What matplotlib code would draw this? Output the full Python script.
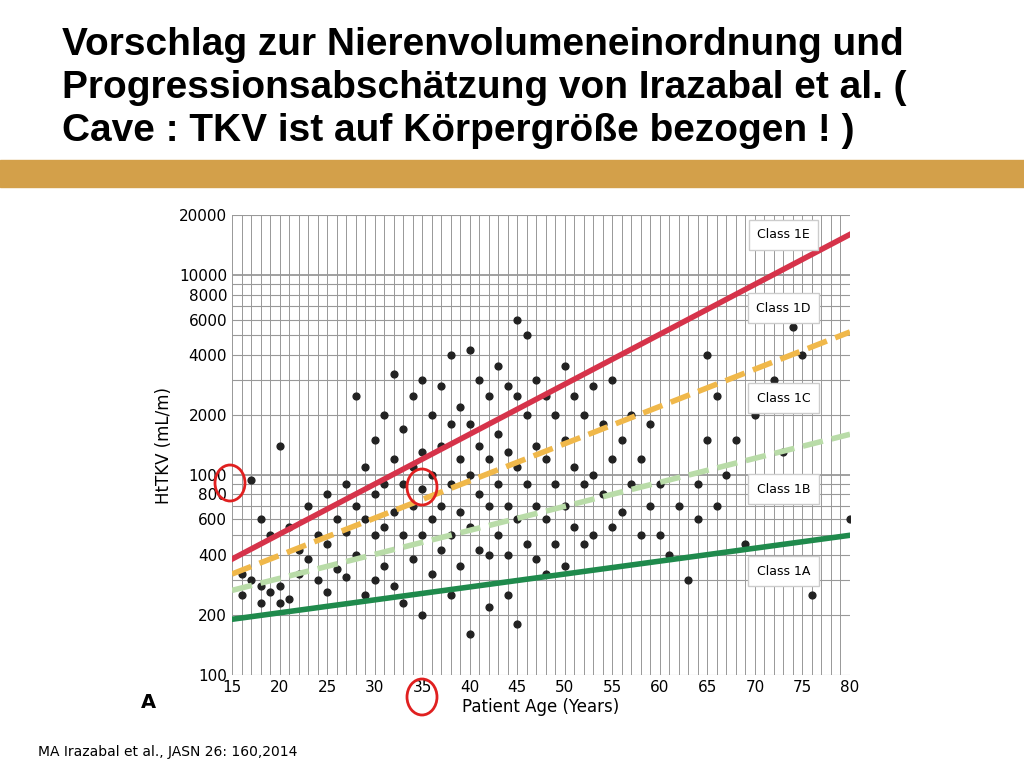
import matplotlib
matplotlib.use("Agg")
import matplotlib.pyplot as plt
from matplotlib.patches import Ellipse, Rectangle

title_lines = ["Vorschlag zur Nierenvolumeneinordnung und",
               "Progressionsabschätzung von Irazabal et al. (",
               "Cave : TKV ist auf Körpergröße bezogen ! )"]
citation = "MA Irazabal et al., JASN 26: 160,2014"

ages = [16,16,17,17,18,18,18,19,19,20,20,20,21,21,22,22,23,23,24,24,25,25,25,26,26,27,27,27,28,28,28,29,29,29,30,30,30,30,31,31,31,31,32,32,32,32,33,33,33,33,34,34,34,34,35,35,35,35,35,36,36,36,36,37,37,37,37,38,38,38,38,38,39,39,39,39,40,40,40,40,40,41,41,41,41,42,42,42,42,42,43,43,43,43,44,44,44,44,44,45,45,45,45,45,46,46,46,46,47,47,47,47,48,48,48,48,49,49,49,50,50,50,50,51,51,51,52,52,52,53,53,53,54,54,55,55,55,56,56,57,57,58,58,59,59,60,60,61,62,63,64,64,65,65,66,66,67,68,69,70,71,72,73,74,75,76,80]
vals = [320,250,950,300,600,280,230,500,260,1400,280,230,550,240,420,320,700,380,500,300,800,450,260,600,340,900,520,310,2500,700,400,1100,600,250,1500,800,500,300,2000,900,550,350,3200,1200,650,280,1700,900,500,230,2500,1100,700,380,3000,1300,850,500,200,2000,1000,600,320,2800,1400,700,420,4000,1800,900,500,250,2200,1200,650,350,4200,1800,1000,550,160,3000,1400,800,420,2500,1200,700,400,220,3500,1600,900,500,2800,1300,700,400,250,6000,2500,1100,600,180,5000,2000,900,450,3000,1400,700,380,2500,1200,600,320,2000,900,450,3500,1500,700,350,2500,1100,550,2000,900,450,2800,1000,500,1800,800,3000,1200,550,1500,650,2000,900,1200,500,1800,700,900,500,400,700,300,900,600,4000,1500,700,2500,1000,1500,450,2000,800,3000,1300,5500,4000,250,600]

x_ticks = [15,20,25,30,35,40,45,50,55,60,65,70,75,80]
y_ticks = [100,200,400,600,800,1000,2000,4000,6000,8000,10000,20000]
class_names = ["Class 1A","Class 1B","Class 1C","Class 1D","Class 1E"]
class_label_y = [330,850,2430,6850,15900]
line_start = [190,265,320,380]
line_end = [500,1600,5200,16000]
line_colors = ["#1f8a4c","#b9dca8","#f0b84a","#d6334a"]
line_styles = ["-","--","--","-"]

fig = plt.figure(figsize=(10.24,7.68), dpi=100)
for i,t in enumerate(title_lines):
    fig.text(62/1024, 1-(45+43*i)/768, t, fontsize=28, fontweight="bold", va="center", family="Liberation Sans")
fig.patches.append(Rectangle((0,1-187/768),1,27/768, transform=fig.transFigure, color="#d3a04a"))

ax = fig.add_axes([232/1024, 93/768, 618/1024, 460/768])
ax.set_yscale("log")
ax.set_xlim(15,80); ax.set_ylim(100,20000)
for a in range(15,81):
    ax.axvline(a, color="#888", lw=0.6, zorder=0)
for yv in [100,200,300,400,500,600,700,800,900,1000,2000,3000,4000,5000,6000,7000,8000,9000,10000,20000]:
    ax.axhline(yv, color="#999", lw=0.8 if yv not in (1000,10000) else 1.3, zorder=0)
ax.scatter(ages, vals, s=24, color="#222", zorder=3)
for s,e,c,ls in zip(line_start,line_end,line_colors,line_styles):
    ax.plot([15,80],[s,e], color=c, lw=4, ls=ls, zorder=4)
for n,yv in zip(class_names,class_label_y):
    ax.text(73, yv, n, ha="center", va="center", fontsize=9, zorder=5,
            bbox=dict(facecolor="white", edgecolor="#ccc", pad=6))
ax.set_xticks(x_ticks); ax.set_yticks(y_ticks)
ax.set_yticklabels([str(v) for v in y_ticks])
ax.minorticks_off()
ax.tick_params(labelsize=11, length=0)
ax.set_xlabel("Patient Age (Years)", fontsize=12, labelpad=2)
ax.set_ylabel("HtTKV (mL/m)", fontsize=12)
for sp in ax.spines.values(): sp.set_visible(False)
fig.text(148/1024, 1-703/768, "A", fontsize=14, fontweight="bold", va="center", ha="center")
for (cx,cy) in [(230,483),(422,487),(422,697)]:
    fig.patches.append(Ellipse((cx/1024,1-cy/768), 30/1024, 36/768, transform=fig.transFigure,
                               fill=False, edgecolor="#e02020", lw=2))
fig.text(38/1024, 1-752/768, citation, fontsize=10, va="center")
fig.savefig("out.png", dpi=100)
